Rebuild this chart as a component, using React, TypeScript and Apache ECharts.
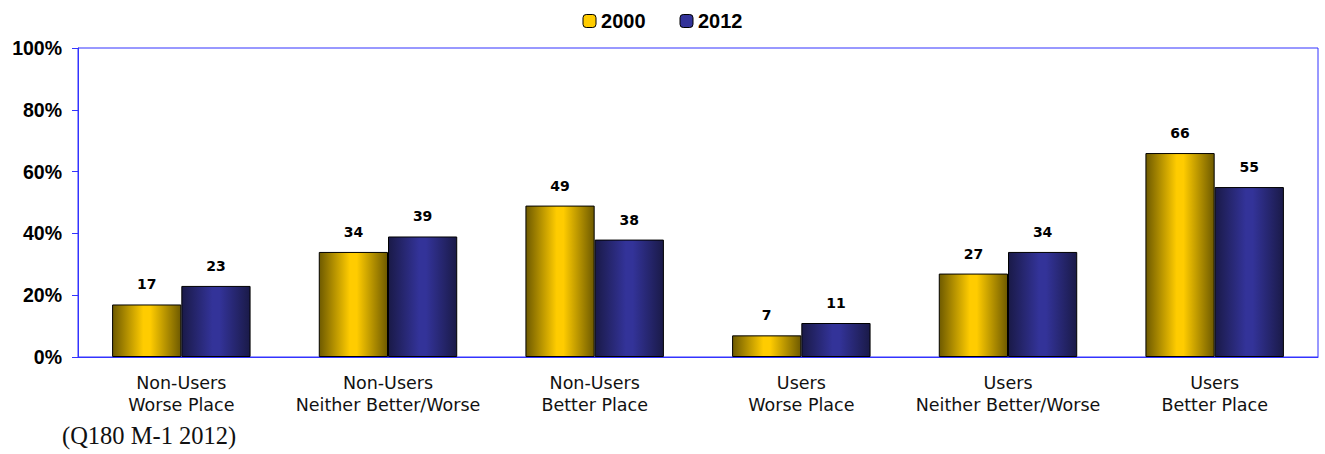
import React, { useEffect, useRef } from "react";
import * as echarts from "echarts";

const categories = [
  "Non-Users\nWorse Place",
  "Non-Users\nNeither Better/Worse",
  "Non-Users\nBetter Place",
  "Users\nWorse Place",
  "Users\nNeither Better/Worse",
  "Users\nBetter Place",
];
const series2000 = [17, 34, 49, 7, 27, 66];
const series2012 = [23, 39, 38, 11, 34, 55];
const yTicks = [0, 20, 40, 60, 80, 100];
const footnote = "(Q180 M-1 2012)";

const goldGrad = new echarts.graphic.LinearGradient(0, 0, 1, 0, [
  { offset: 0, color: "#6e5a00" },
  { offset: 0.45, color: "#ffcc00" },
  { offset: 0.55, color: "#ffcc00" },
  { offset: 1, color: "#6e5a00" },
]);
const blueGrad = new echarts.graphic.LinearGradient(0, 0, 1, 0, [
  { offset: 0, color: "#1a1a48" },
  { offset: 0.45, color: "#333399" },
  { offset: 0.55, color: "#333399" },
  { offset: 1, color: "#1a1a48" },
]);

export default function App() {
  const ref = useRef<HTMLDivElement>(null);
  useEffect(() => {
    const chart = echarts.init(ref.current!, null, { renderer: "svg" });
    const labelStyle = {
      show: true,
      position: "top" as const,
      distance: 13,
      fontFamily: "DejaVu Sans",
      fontWeight: "bold" as const,
      fontSize: 14,
      color: "#000",
    };
    chart.setOption({
      animation: false,
      legend: {
        top: 6,
        left: "center",
        itemWidth: 13,
        itemHeight: 13,
        itemGap: 34,
        textStyle: {
          fontFamily: "Liberation Sans",
          fontWeight: "bold",
          fontSize: 20,
          color: "#000",
        },
        data: [
          { name: "2000", itemStyle: { color: "#ffcc00", borderColor: "#000", borderWidth: 1 } },
          { name: "2012", itemStyle: { color: "#333399", borderColor: "#000", borderWidth: 1 } },
        ],
      },
      grid: {
        left: 78,
        right: 7,
        top: 48,
        bottom: 97,
        show: true,
        borderColor: "#3333ff",
        borderWidth: 1,
      },
      xAxis: {
        type: "category",
        data: categories,
        axisLine: { lineStyle: { color: "#3333ff", width: 1 } },
        axisTick: { show: false },
        axisLabel: {
          fontFamily: "DejaVu Sans",
          fontSize: 17.5,
          color: "#111",
          lineHeight: 22,
          margin: 15,
          interval: 0,
        },
      },
      yAxis: {
        type: "value",
        min: yTicks[0],
        max: yTicks[yTicks.length - 1],
        interval: 20,
        axisLine: { show: true, lineStyle: { color: "#3333ff", width: 1 } },
        axisTick: { show: true, length: 6, lineStyle: { color: "#3333ff" } },
        splitLine: { show: false },
        axisLabel: {
          formatter: "{value}%",
          fontFamily: "Liberation Sans",
          fontWeight: "bold",
          fontSize: 19.5,
          color: "#000",
          margin: 16,
        },
      },
      series: [
        {
          name: "2000",
          type: "bar",
          data: series2000,
          barGap: "0%",
          barCategoryGap: "33%",
          itemStyle: { color: goldGrad, borderColor: "#000", borderWidth: 1 },
          label: labelStyle,
        },
        {
          name: "2012",
          type: "bar",
          data: series2012,
          barGap: "0%",
          barCategoryGap: "33%",
          itemStyle: { color: blueGrad, borderColor: "#000", borderWidth: 1 },
          label: labelStyle,
        },
      ],
      graphic: [
        {
          type: "text",
          left: 62,
          top: 423,
          style: {
            text: footnote,
            font: "24.5px 'Liberation Serif'",
            fill: "#111",
          },
        },
      ],
    });
    return () => chart.dispose();
  }, []);
  return (
    <div
      ref={ref}
      style={{ position: "absolute", left: 0, top: 0, width: 1325, height: 454 }}
    />
  );
}
